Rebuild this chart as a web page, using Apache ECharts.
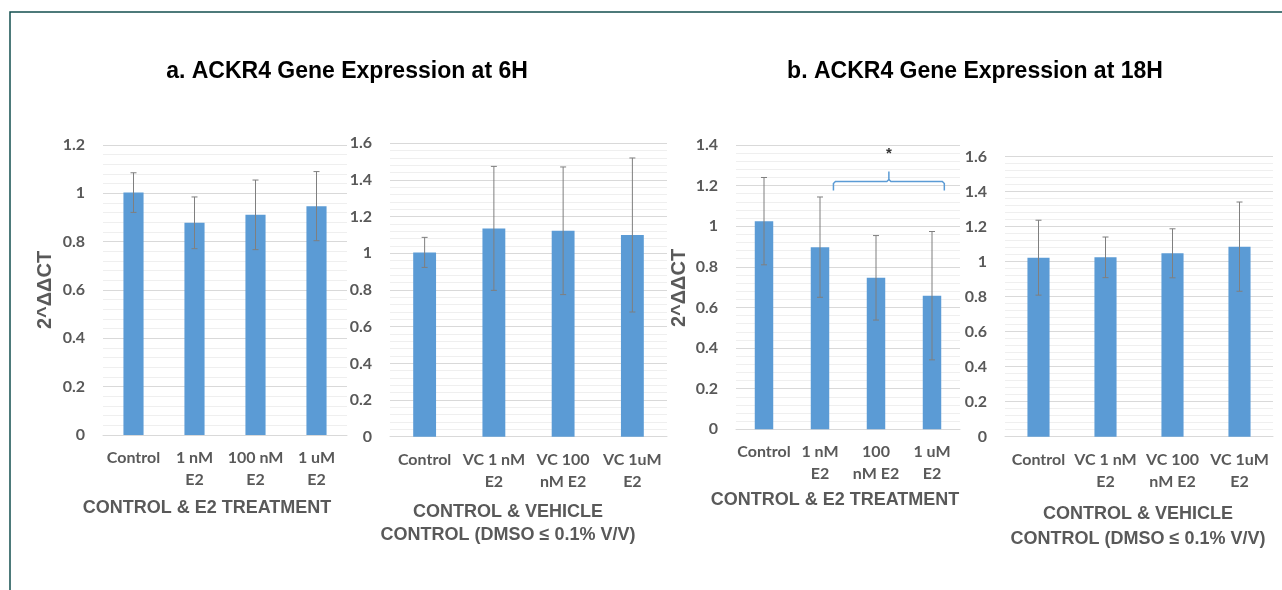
<!DOCTYPE html>
<html>
<head>
<meta charset="utf-8">
<script src="https://cdn.jsdelivr.net/npm/echarts@6/dist/echarts.min.js"></script>
<style>
html,body{margin:0;padding:0;background:#fff;}
#chart{width:1282px;height:590px;}
</style>
</head>
<body>
<div id="chart"></div>
<script>
// ---------- data ----------
const catsA1 = ['Control', '1 nM\nE2', '100 nM\nE2', '1 uM\nE2'];
const valsA1 = [1.003, 0.878, 0.911, 0.947];
const errA1  = [0.082, 0.107, 0.144, 0.143];

const catsA2 = ['Control', 'VC 1 nM\nE2', 'VC 100\nnM E2', 'VC 1uM\nE2'];
const valsA2 = [1.005, 1.136, 1.123, 1.100];
const errA2  = [0.082, 0.338, 0.348, 0.420];

const catsB1 = ['Control', '1 nM\nE2', '100\nnM E2', '1 uM\nE2'];
const valsB1 = [1.025, 0.897, 0.746, 0.658];
const errB1  = [0.215, 0.247, 0.208, 0.316];

const catsB2 = ['Control', 'VC 1 nM\nE2', 'VC 100\nnM E2', 'VC 1uM\nE2'];
const valsB2 = [1.023, 1.025, 1.048, 1.086];
const errB2  = [0.214, 0.116, 0.140, 0.255];

const yMax = [1.2, 1.6, 1.4, 1.6];
const yStep = 0.2;

const titleA = 'a. ACKR4 Gene Expression at 6H';
const titleB = 'b. ACKR4 Gene Expression at 18H';
const yTitle = '2^\u0394\u0394CT';
const xTitleTreat = 'CONTROL & E2 TREATMENT';
const xTitleVeh = 'CONTROL & VEHICLE\nCONTROL (DMSO \u2264 0.1% V/V)';

// significance bracket (panel b, 1 nM .. 1 uM)
const sigFrom = 1, sigTo = 3, sigLevel = 1.22, sigLabel = '*';

// ---------- chart ----------
const chart = echarts.init(document.getElementById('chart'));
const panels = [
  {cats: catsA1, vals: valsA1, err: errA1},
  {cats: catsA2, vals: valsA2, err: errA2},
  {cats: catsB1, vals: valsB1, err: errB1},
  {cats: catsB2, vals: valsB2, err: errB2}
];
const grids = [
  {left: 103, top: 145,   width: 244, height: 290},
  {left: 390, top: 143.3, width: 277, height: 293.4},
  {left: 736, top: 145,   width: 224, height: 284.3},
  {left: 1005, top: 156.7, width: 268, height: 280}
];
const gray = '#595959';
const labelFont = 'Lato, "Open Sans", sans-serif';

function errRender(params, api) {
  const x = api.value(0);
  const pHi = api.coord([x, api.value(2)]);
  const pLo = api.coord([x, api.value(1)]);
  const w = 3;
  const st = {stroke: '#7f7f7f', lineWidth: 1};
  return {type: 'group', children: [
    {type: 'line', shape: {x1: pHi[0], y1: pHi[1], x2: pLo[0], y2: pLo[1]}, style: st},
    {type: 'line', shape: {x1: pHi[0] - w, y1: pHi[1], x2: pHi[0] + w, y2: pHi[1]}, style: st},
    {type: 'line', shape: {x1: pLo[0] - w, y1: pLo[1], x2: pLo[0] + w, y2: pLo[1]}, style: st}
  ]};
}

function bracketRender(params, api) {
  const a = api.coord([api.value(0), api.value(2)]);
  const b = api.coord([api.value(1), api.value(2)]);
  const bw = api.size([1, 0])[0];
  const x1 = a[0] + 0.24 * bw, x2 = b[0] + 0.22 * bw, y = a[1];
  const xm = (x1 + x2) / 2;
  const st = {stroke: '#5b9bd5', lineWidth: 1.5, fill: null};
  return {type: 'group', children: [
    {type: 'polyline', shape: {points: [[x1, y + 9], [x1, y + 2], [x1 + 2, y], [xm - 2, y], [xm, y - 2], [xm, y - 10]]}, style: st},
    {type: 'polyline', shape: {points: [[xm, y - 2], [xm + 2, y], [x2 - 2, y], [x2, y + 2], [x2, y + 9]]}, style: st},
    {type: 'text', x: xm, y: y - 28, style: {text: sigLabel, align: 'center', verticalAlign: 'middle', font: 'bold 15px "Liberation Sans", Arial, sans-serif', fill: '#333'}}
  ]};
}

const xAxes = panels.map((p, i) => ({
  type: 'category', gridIndex: i, data: p.cats,
  axisTick: {show: false},
  axisLine: {lineStyle: {color: '#d9d9d9', width: 1}},
  axisLabel: {color: gray, fontFamily: labelFont, fontWeight: 'bold', fontSize: 16, lineHeight: 22, margin: 12, interval: 0}
}));
const yAxes = panels.map((p, i) => ({
  type: 'value', gridIndex: i, min: 0, max: yMax[i], interval: yStep,
  axisLine: {show: false}, axisTick: {show: false},
  axisLabel: {color: gray, fontFamily: labelFont, fontWeight: 'bold', fontSize: 16, margin: 18},
  splitLine: {lineStyle: {color: '#d9d9d9', width: 1}},
  minorTick: {show: false, splitNumber: 5},
  minorSplitLine: {show: true, lineStyle: {color: '#efefef', width: 1}}
}));
const series = [];
panels.forEach((p, i) => {
  series.push({
    type: 'bar', xAxisIndex: i, yAxisIndex: i, data: p.vals,
    barWidth: '33%', itemStyle: {color: '#5b9bd5'}, silent: true, animation: false
  });
  series.push({
    type: 'custom', xAxisIndex: i, yAxisIndex: i, renderItem: errRender, z: 5,
    encode: {x: 0, y: [1, 2]}, animation: false, silent: true,
    data: p.vals.map((v, k) => [k, v - p.err[k], v + p.err[k]])
  });
});
series.push({
  type: 'custom', xAxisIndex: 2, yAxisIndex: 2, renderItem: bracketRender, z: 6,
  encode: {x: [0, 1], y: 2}, animation: false, silent: true, clip: false,
  data: [[sigFrom, sigTo, sigLevel]]
});

const titleFont = 'bold 23px "Liberation Sans", Arial, sans-serif';
const axTitleFont = 'bold 18px "Liberation Sans", Arial, sans-serif';
const yTitleFont = 'bold 20px "Liberation Sans", Arial, sans-serif';

chart.setOption({
  animation: false,
  backgroundColor: '#fff',
  grid: grids,
  xAxis: xAxes,
  yAxis: yAxes,
  series: series,
  graphic: [
    {type: 'rect', shape: {x: 10, y: 12, width: 1300, height: 620}, style: {fill: null, stroke: '#134f4f', lineWidth: 1.5}, silent: true},
    {type: 'text', x: 347, y: 72, style: {text: titleA, font: titleFont, fill: '#000', align: 'center', verticalAlign: 'middle'}},
    {type: 'text', x: 975, y: 72, style: {text: titleB, font: titleFont, fill: '#000', align: 'center', verticalAlign: 'middle'}},
    {type: 'text', x: 45, y: 290, rotation: Math.PI / 2, style: {text: yTitle, font: yTitleFont, fill: gray, align: 'center', verticalAlign: 'middle'}},
    {type: 'text', x: 679, y: 288, rotation: Math.PI / 2, style: {text: yTitle, font: yTitleFont, fill: gray, align: 'center', verticalAlign: 'middle'}},
    {type: 'text', x: 207, y: 508, style: {text: xTitleTreat, font: axTitleFont, fill: gray, align: 'center', verticalAlign: 'middle'}},
    {type: 'text', x: 835, y: 500, style: {text: xTitleTreat, font: axTitleFont, fill: gray, align: 'center', verticalAlign: 'middle'}},
    {type: 'text', x: 508, y: 524, style: {text: xTitleVeh, font: axTitleFont, fill: gray, align: 'center', verticalAlign: 'middle', lineHeight: 23}},
    {type: 'text', x: 1138, y: 527, style: {text: xTitleVeh, font: axTitleFont, fill: gray, align: 'center', verticalAlign: 'middle', lineHeight: 25}}
  ]
});
</script>
</body>
</html>
